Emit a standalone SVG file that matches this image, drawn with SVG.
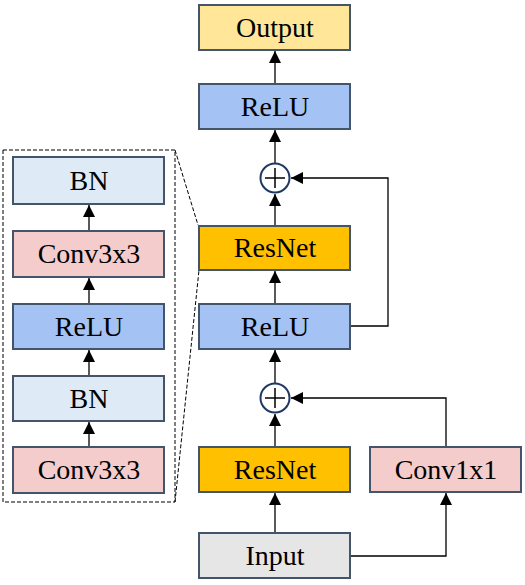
<svg xmlns="http://www.w3.org/2000/svg" width="525" height="585" viewBox="0 0 525 585">
<style>
.box{stroke:#44546A;stroke-width:2}
text{font-family:'Liberation Serif','DejaVu Serif',serif;font-size:28px;fill:#000;text-anchor:middle}
.c{stroke:#000;stroke-width:1.3;fill:none}
.d{stroke:#000;stroke-width:1;fill:none;stroke-dasharray:4,2}
</style>
<defs>
<marker id="a" viewBox="0 0 12 12" refX="12" refY="6" markerWidth="12" markerHeight="12" markerUnits="userSpaceOnUse" orient="auto">
<path d="M0,0L12,6L0,12z" fill="#000"/>
</marker>
</defs>
<rect width="525" height="585" fill="#fff"/>
<g id="connectors">
<line class="c" x1="275" y1="84" x2="275" y2="51" marker-end="url(#a)"/>
<line class="c" x1="275" y1="163" x2="275" y2="130" marker-end="url(#a)"/>
<line class="c" x1="275" y1="226" x2="275" y2="194" marker-end="url(#a)"/>
<line class="c" x1="275" y1="304" x2="275" y2="271" marker-end="url(#a)"/>
<line class="c" x1="275" y1="383" x2="275" y2="350" marker-end="url(#a)"/>
<line class="c" x1="275" y1="447" x2="275" y2="414" marker-end="url(#a)"/>
<line class="c" x1="275" y1="533" x2="275" y2="493" marker-end="url(#a)"/>
<polyline class="c" points="350,326 388,326 388,178 291,178" marker-end="url(#a)"/>
<polyline class="c" points="446,447 446,398 291,398" marker-end="url(#a)"/>
<polyline class="c" points="350,556 446,556 446,493" marker-end="url(#a)"/>
<line class="c" x1="89" y1="231" x2="89" y2="205" marker-end="url(#a)"/>
<line class="c" x1="89" y1="304" x2="89" y2="278" marker-end="url(#a)"/>
<line class="c" x1="89" y1="376" x2="89" y2="350" marker-end="url(#a)"/>
<line class="c" x1="89" y1="447" x2="89" y2="422" marker-end="url(#a)"/>
<rect class="d" x="3" y="150" width="172" height="352"/>
<line class="d" x1="175" y1="150" x2="198" y2="225"/>
<line class="d" x1="175" y1="502" x2="199" y2="270"/>
</g>
<g id="output"><rect class="box" x="199" y="5" width="151" height="45" fill="#FFE699"/><text x="275" y="37">Output</text></g>
<g id="relu-top"><rect class="box" x="199" y="84" width="151" height="45" fill="#A4C2F4"/><text x="275" y="116">ReLU</text></g>
<g id="add-top"><circle cx="275" cy="178" r="14.5" fill="#fff" stroke="#1F3864" stroke-width="2"/><path d="M265,178H285M275,168V188" stroke="#000" stroke-width="1.5"/></g>
<g id="resnet-top"><rect class="box" x="199" y="226" width="151" height="44" fill="#FFC000"/><text x="275" y="257">ResNet</text></g>
<g id="relu-mid"><rect class="box" x="199" y="304" width="151" height="45" fill="#A4C2F4"/><text x="275" y="336">ReLU</text></g>
<g id="add-bottom"><circle cx="275" cy="398" r="14.5" fill="#fff" stroke="#1F3864" stroke-width="2"/><path d="M265,398H285M275,388V408" stroke="#000" stroke-width="1.5"/></g>
<g id="resnet-bottom"><rect class="box" x="199" y="447" width="151" height="45" fill="#FFC000"/><text x="275" y="479">ResNet</text></g>
<g id="conv1x1"><rect class="box" x="370" y="447" width="151" height="45" fill="#F4CCCC"/><text x="446" y="479">Conv1x1</text></g>
<g id="input"><rect class="box" x="199" y="533" width="151" height="45" fill="#E7E6E6"/><text x="275" y="565">Input</text></g>
<g id="bn-top"><rect class="box" x="13" y="157" width="151" height="47" fill="#DEEBF7"/><text x="89" y="190">BN</text></g>
<g id="conv3x3-top"><rect class="box" x="13" y="231" width="151" height="46" fill="#F4CCCC"/><text x="89" y="263">Conv3x3</text></g>
<g id="relu-left"><rect class="box" x="13" y="304" width="151" height="45" fill="#A4C2F4"/><text x="89" y="336">ReLU</text></g>
<g id="bn-bottom"><rect class="box" x="13" y="376" width="151" height="45" fill="#DEEBF7"/><text x="89" y="408">BN</text></g>
<g id="conv3x3-bottom"><rect class="box" x="13" y="447" width="151" height="46" fill="#F4CCCC"/><text x="89" y="479">Conv3x3</text></g>
</svg>
